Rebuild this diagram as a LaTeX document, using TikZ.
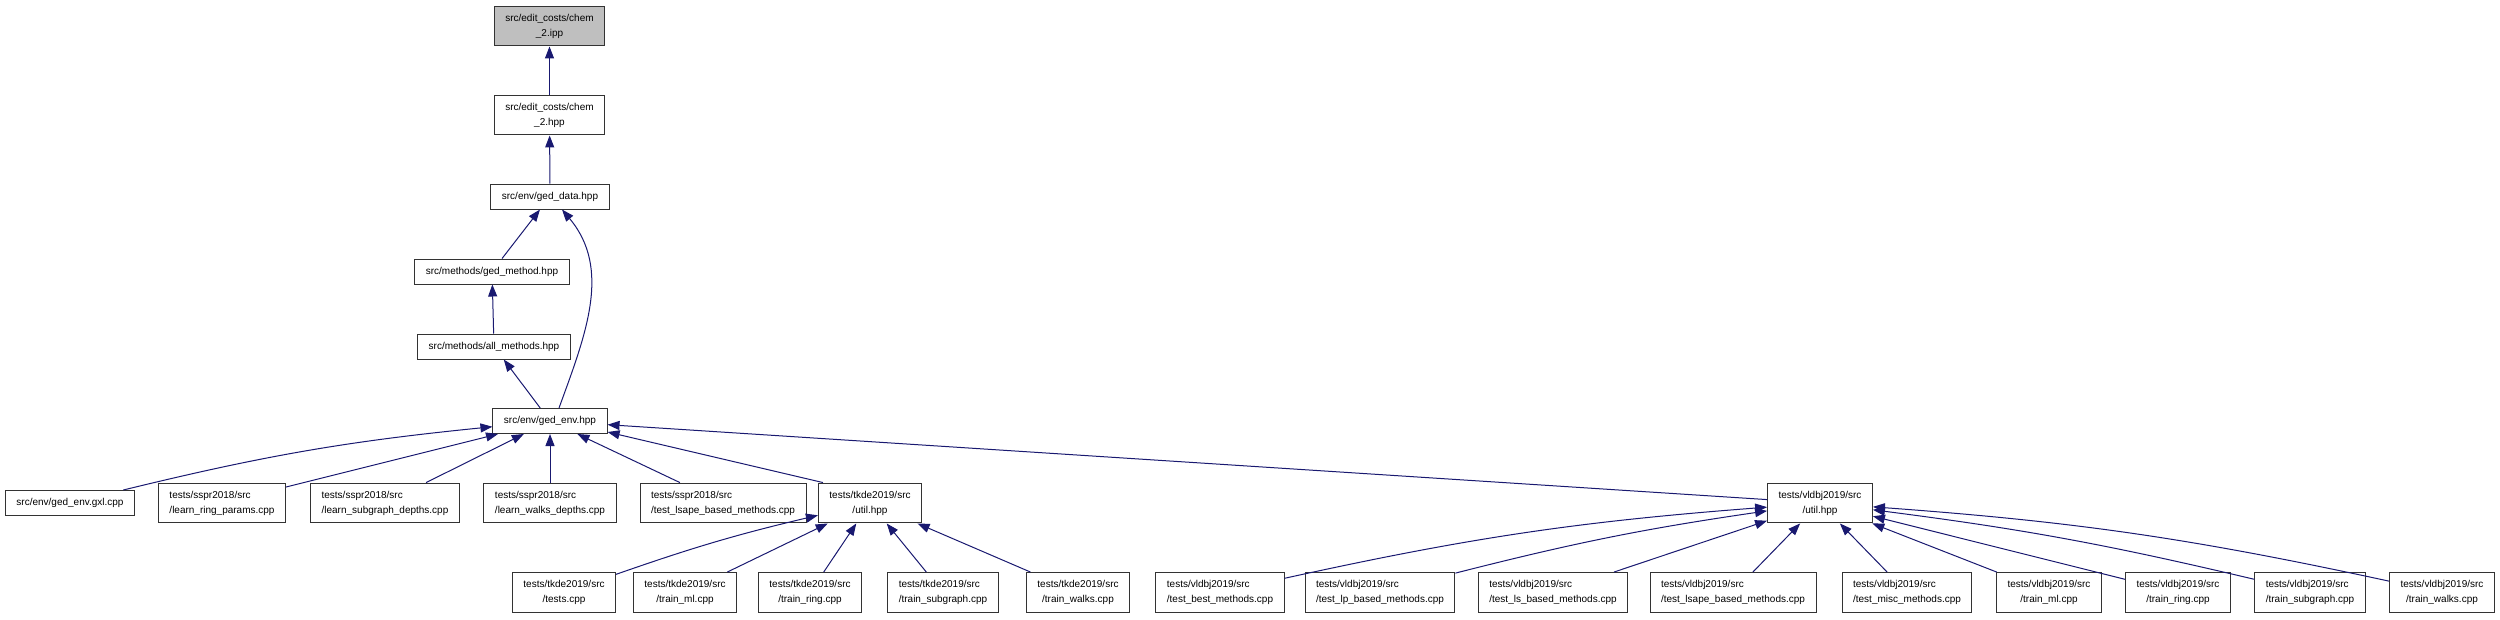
\documentclass[tikz,border=0pt]{standalone}
\usepackage{fontspec}
\setmainfont{Liberation Sans}
\usetikzlibrary{arrows.meta}
\definecolor{midnight}{HTML}{191970}
\definecolor{grey75}{HTML}{BFBFBF}

\begin{document}
\begin{tikzpicture}
[x=1pt,y=1pt,%
  every node/.style={shape=rectangle,draw=black!80,line width=1pt,fill=white,
    inner xsep=11pt,inner ysep=7.8pt,minimum height=25pt,
    font=\fontsize{10}{15}\selectfont,align=center},%
  lfile/.style={align=left},%
  root/.style={fill=grey75},%
  incl/.style={-{Triangle[length=12pt,width=9pt]},draw=midnight,line width=1pt}]
\useasboundingbox (0,0) rectangle (2500,-619);
% headers
\node[root] (ipp) at (549.5,-26) {src/edit\_costs/chem\\\_2.ipp};
\node (chemhpp) at (549.5,-115) {src/edit\_costs/chem\\\_2.hpp};
\node (data) at (550,-196.5) {src/env/ged\_data.hpp};
\node (method) at (492,-271.5) {src/methods/ged\_method.hpp};
\node (allm) at (494,-346.5) {src/methods/all\_methods.hpp};
\node (env) at (550,-421) {src/env/ged\_env.hpp};
% middle row
\node (gxl) at (70,-503) {src/env/ged\_env.gxl.cpp};
\node[lfile] (ring) at (222,-503) {tests/sspr2018/src\\/learn\_ring\_params.cpp};
\node[lfile] (subg) at (385,-503) {tests/sspr2018/src\\/learn\_subgraph\_depths.cpp};
\node[lfile] (walks) at (550,-503) {tests/sspr2018/src\\/learn\_walks\_depths.cpp};
\node[lfile] (slsape) at (723,-503) {tests/sspr2018/src\\/test\_lsape\_based\_methods.cpp};
\node (tutil) at (870,-503) {tests/tkde2019/src\\/util.hpp};
\node (vutil) at (1820,-503) {tests/vldbj2019/src\\/util.hpp};
% bottom row
\node (ttests) at (564,-592.5) {tests/tkde2019/src\\/tests.cpp};
\node (tml) at (685,-592.5) {tests/tkde2019/src\\/train\_ml.cpp};
\node (tring) at (810,-592.5) {tests/tkde2019/src\\/train\_ring.cpp};
\node[lfile] (tsub) at (943,-592.5) {tests/tkde2019/src\\/train\_subgraph.cpp};
\node (twalks) at (1078,-592.5) {tests/tkde2019/src\\/train\_walks.cpp};
\node[lfile] (vbest) at (1220,-592.5) {tests/vldbj2019/src\\/test\_best\_methods.cpp};
\node[lfile] (vlp) at (1380,-592.5) {tests/vldbj2019/src\\/test\_lp\_based\_methods.cpp};
\node[lfile] (vls) at (1553,-592.5) {tests/vldbj2019/src\\/test\_ls\_based\_methods.cpp};
\node[lfile] (vlsape) at (1733,-592.5) {tests/vldbj2019/src\\/test\_lsape\_based\_methods.cpp};
\node[lfile] (vmisc) at (1907,-592.5) {tests/vldbj2019/src\\/test\_misc\_methods.cpp};
\node (vml) at (2049,-592.5) {tests/vldbj2019/src\\/train\_ml.cpp};
\node (vring) at (2178,-592.5) {tests/vldbj2019/src\\/train\_ring.cpp};
\node[lfile] (vsub) at (2310,-592.5) {tests/vldbj2019/src\\/train\_subgraph.cpp};
\node (vwalks) at (2442,-592.5) {tests/vldbj2019/src\\/train\_walks.cpp};
% includes
\draw[incl] (chemhpp) -- (ipp);
\draw[incl] (data) -- (chemhpp);
\draw[incl] (method) -- (data);
\draw[incl] (allm) -- (method);
\draw[incl] (env) -- (allm);
\draw[incl] ([xshift=9pt]env.north) to[out=70,in=-50] ([xshift=12pt]data.south);
\draw[incl] (gxl) to[bend left=4] (env);
\draw[incl] (ring) -- (env);
\draw[incl] (subg) -- (env);
\draw[incl] (walks) -- (env);
\draw[incl] (slsape) -- (env);
\draw[incl] ([xshift=5pt]tutil.north west) -- ([yshift=2pt]env.south east);
\draw[incl] (vutil) -- (env);
\draw[incl] (ttests) to[bend left=3] (tutil);
\draw[incl] (tml) -- (tutil);
\draw[incl] (tring) -- (tutil);
\draw[incl] (tsub) -- (tutil);
\draw[incl] (twalks) -- (tutil);
\draw[incl] (vbest) to[bend left=4] (vutil);
\draw[incl] (vlp) to[bend left=3] (vutil);
\draw[incl] (vls) -- (vutil);
\draw[incl] (vlsape) -- (vutil);
\draw[incl] (vmisc) -- (vutil);
\draw[incl] (vml) -- (vutil);
\draw[incl] (vring) -- (vutil);
\draw[incl] (vsub) to[bend right=3] (vutil);
\draw[incl] (vwalks) to[bend right=4] (vutil);
\end{tikzpicture}
\end{document}
